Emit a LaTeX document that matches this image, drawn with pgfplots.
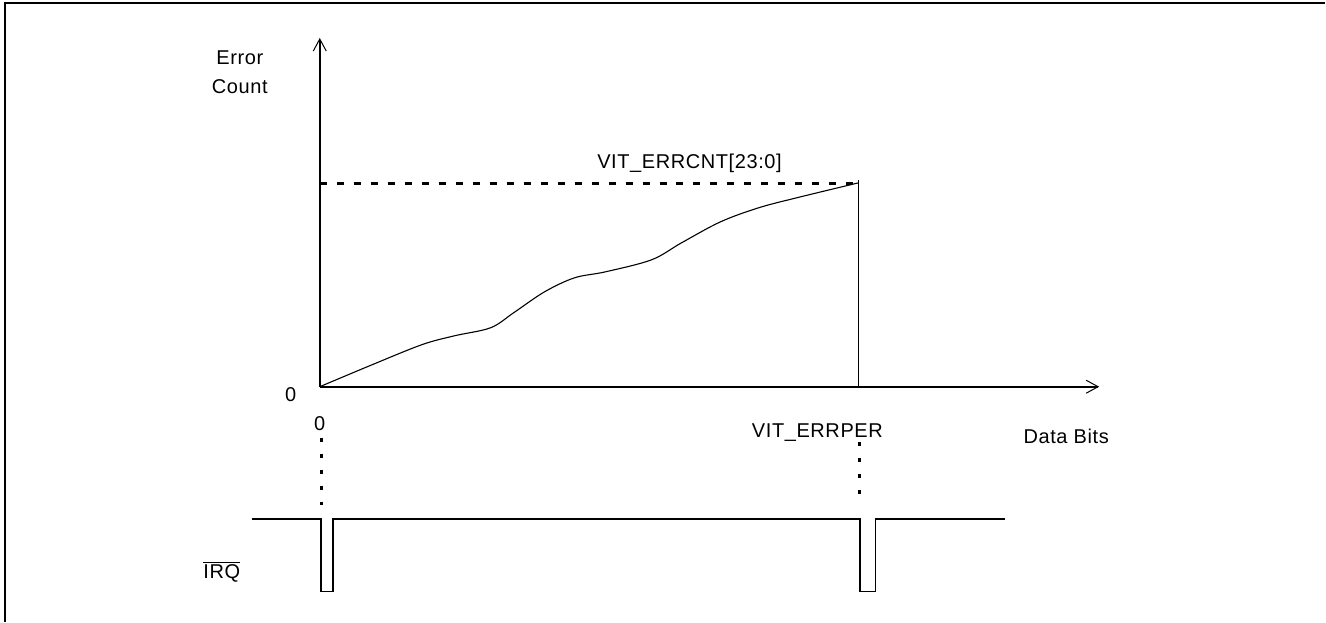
\documentclass[border=0pt]{standalone}
\usepackage{pgfplots}
\pgfplotsset{compat=1.18}
\usetikzlibrary{arrows.meta}
\usepackage{fontspec}
\setmainfont{Liberation Sans}[LetterSpace=3]
\begin{document}
\begin{tikzpicture}
\begin{axis}[
  width=663pt, height=311pt, scale only axis,
  xmin=0, xmax=1326, ymin=0, ymax=622, y dir=reverse,
  hide axis, clip=false,
  every node/.style={font=\fontsize{10.3}{12}\selectfont, inner sep=0pt, anchor=base},
]
% bounding box
\addplot[draw=none] coordinates {(0,0) (1326,622)};
% frame (top and left)
\addplot[line width=1pt] coordinates {(5,622) (5,2.5) (1326,2.5)};
% axes
\addplot[line width=0.85pt, -{Straight Barb[length=6pt,width=6.5pt,line width=0.5pt]}] coordinates {(320,387) (320,38)};
\addplot[line width=0.85pt, -{Straight Barb[length=6pt,width=6.5pt,line width=0.5pt]}] coordinates {(320,387) (1100,387)};
% error count curve
\addplot[line width=0.55pt, smooth, tension=0.55] coordinates {
 (320,387) (370,366) (422,345) (455,336) (491,328) (514,313) (545,292)
 (575,278) (606,272) (652,260) (682,243) (721,222) (759,208) (797,198) (859,183)};
% VIT_ERRPER vertical
\addplot[line width=0.8pt] coordinates {(859,387) (859,180)};
% dotted level
\addplot[line width=1.5pt, dash pattern=on 3.5pt off 5pt] coordinates {(320,184) (859,184)};
% dotted verticals
\addplot[line width=1.4pt, dash pattern=on 2pt off 6pt] coordinates {(322,438) (322,505)};
\addplot[line width=1.4pt, dash pattern=on 2pt off 6pt] coordinates {(860.5,442) (860.5,505)};
% IRQ signal
\addplot[line width=0.85pt] coordinates {
 (252,519.5) (321,519.5) (321,592) (333.5,592) (333.5,519.5)
 (860.5,519.5) (860.5,592) (876,592) (876,519.5) (1005.5,519.5)};
% labels
\node at (axis cs:240,57.3) {Error};
\node at (axis cs:240,87) {Count};
\node at (axis cs:291,395) {0};
\node at (axis cs:320,424) {0};
\node at (axis cs:690,163.3) {VIT\_ERRCNT[23:0]};
\node at (axis cs:818,433) {VIT\_ERRPER};
\node at (axis cs:1067,437) {Data Bits};
\node at (axis cs:222,572) {$\overline{\mbox{IRQ}}$};
\end{axis}
\end{tikzpicture}
\end{document}
